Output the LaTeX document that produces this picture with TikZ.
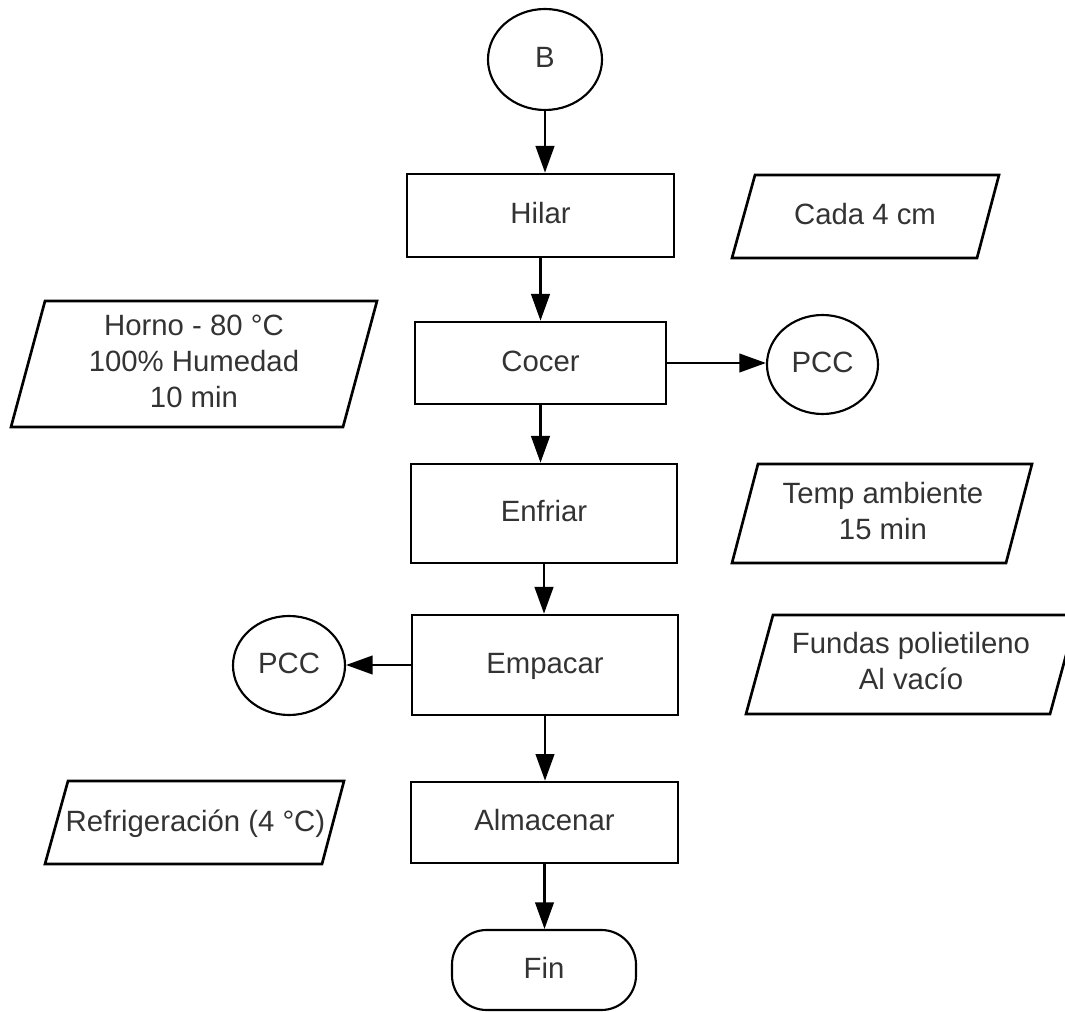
\documentclass[tikz,border=0pt]{standalone}
\usepackage{fontspec}
\setmainfont{Liberation Sans}
\usetikzlibrary{shapes.geometric,arrows.meta}
\begin{document}
\begin{tikzpicture}[x=0.75pt,y=-0.75pt,
  font=\fontsize{22}{27}\selectfont,
  every node/.style={text=black!80},
  sz/.style 2 args={minimum width=#1*0.75pt, minimum height=#2*0.75pt},
  one/.style={text height=15.8pt, text depth=3.7pt},
  proc/.style={draw=black, line width=2pt, inner sep=0pt, align=center, one},
  conn/.style={draw=black, ellipse, line width=1.6pt, inner sep=0pt, one},
  io/.style={draw=black, line width=2pt, line join=miter},
  arr/.style={draw=black, line width=1.6pt, -{Triangle[length=20pt,width=14pt]}},
]
\useasboundingbox (0,0) rectangle (1065,1012);

% process boxes
\node[conn, sz={114}{101}] (b) at (545,59.5) {B};
\node[proc, sz={267}{83}] (hilar) at (540.5,215.5) {Hilar};
\node[proc, sz={251}{82}] (cocer) at (540.5,363) {Cocer};
\node[proc, sz={266}{99}] (enfriar) at (544,513.5) {Enfriar};
\node[proc, sz={266}{100}] (empacar) at (545,665) {Empacar};
\node[proc, sz={267}{81}] (almacenar) at (544.5,822.5) {Almacenar};
\node[draw=black, line width=1.6pt, rounded corners=26pt, inner sep=0pt, one, sz={184}{80}] (fin) at (544,970) {Fin};

\node[conn, sz={111}{99}] (pcc1) at (822.5,364.5) {PCC};
\node[conn, sz={112}{99}] (pcc2) at (289,665.5) {PCC};

% data parallelograms
\draw[io] (755,175) -- (999,175) -- (977,258) -- (732,258) -- cycle;
\node[one] (cada) at (865,216) {Cada 4 cm};

\draw[io] (45,301) -- (377,301) -- (343,427) -- (11,427) -- cycle;
\node[align=center] (horno) at (194,361) {Horno - 80 °C\\100\% Humedad\\10 min};

\draw[io] (758,464) -- (1032,464) -- (1006,563) -- (732,563) -- cycle;
\node[align=center] (temp) at (883,511) {Temp ambiente\\15 min};

\draw[io] (773,615) -- (1077,615) -- (1050,714) -- (746,714) -- cycle;
\node[align=center] (fundas) at (911,661) {Fundas polietileno\\Al vacío};

\draw[io] (68,781) -- (344,781) -- (322,864) -- (45,864) -- cycle;
\node[one] (refri) at (195.5,823) {Refrigeración (4 °C)};

% connectors
\draw[arr] (b) -- (b |- hilar.north);
\draw[arr] (hilar.south) -- (cocer.north);
\draw[arr] (cocer.south) -- (cocer.south |- enfriar.north);
\draw[arr] (enfriar.south) -- (enfriar.south |- empacar.north);
\draw[arr] (empacar.south) -- (empacar.south |- almacenar.north);
\draw[arr] (almacenar.south) -- (almacenar.south |- fin.north);
\draw[arr] (cocer.east) -- (cocer.east -| pcc1.west);
\draw[arr] (empacar.west) -- (empacar.west -| pcc2.east);
\end{tikzpicture}
\end{document}
